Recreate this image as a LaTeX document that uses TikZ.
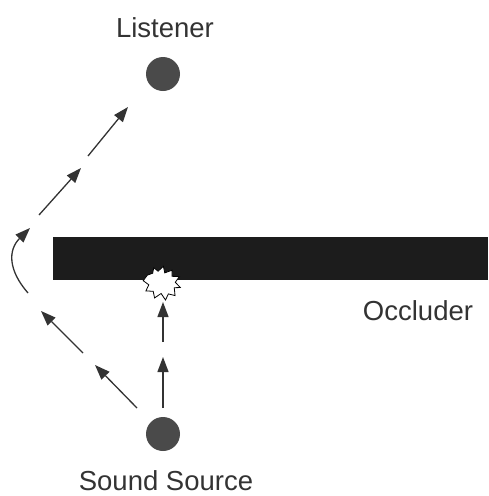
\documentclass[tikz,border=0pt]{standalone}
\usepackage{fontspec}
\setmainfont{Liberation Sans}
\usetikzlibrary{arrows.meta}
\definecolor{inkgray}{HTML}{333333}
\definecolor{dotgray}{HTML}{4A4A4A}
\definecolor{barblack}{HTML}{1C1C1C}
\begin{document}
\begin{tikzpicture}[x=1pt,y=-1pt,
  label/.style={font=\fontsize{27.5}{30}\selectfont, text=inkgray, inner sep=0pt, anchor=base},
  dot/.style={circle, fill=dotgray, minimum size=34pt, inner sep=0pt},
  ray/.style={draw=inkgray, line width=1.3pt,
    -{Triangle[length=15pt,width=11pt]}}]
  \useasboundingbox (0,0) rectangle (488,496);

  % occluding wall
  \fill[barblack] (53,237) rectangle (488,280);

  % listener and source
  \node[dot] (listener) at (163,74) {};
  \node[dot] (source) at (163,434) {};
  \node[label] (ltext) at (165,37) {Listener};
  \node[label] (stext) at (166,490) {Sound Source};
  \node[label] (otext) at (418,320) {Occluder};

  % blocked impact point under the wall
  \coordinate (hit) at (162,282);
  \begin{scope}[shift={(hit)}, rotate=-25, scale=1.35]
    \draw[fill=white, draw=black, line width=0.8pt]
      plot[sharp cycle] coordinates {
        (-12,0) (-9,-3) (-10,-7) (-6,-6) (-4,-11) (-1,-7) (3,-11)
        (5,-7) (10,-9) (9,-4) (14,-2) (10,0) (13,5) (8,6)
        (8,11) (3,8) (0,13) (-3,9) (-8,11) (-8,6) (-13,5)};
  \end{scope}

  % direct path, stopped by the wall
  \coordinate (d1a) at (163,408); \coordinate (d1b) at (163,357);
  \coordinate (d2a) at (163,342); \coordinate (d2b) at (163,302);
  \draw[ray] (d1a) -- (d1b);
  \draw[ray] (d2a) -- (d2b);

  % diffracted path around the wall end
  \coordinate (a1a) at (137,408); \coordinate (a1b) at (95,365);
  \coordinate (a2a) at (83,353);  \coordinate (a2b) at (41,311);
  \coordinate (c1a) at (28,293);  \coordinate (c1b) at (30,228);
  \coordinate (b1a) at (39,215);  \coordinate (b1b) at (81,168);
  \coordinate (b2a) at (88,156);  \coordinate (b2b) at (128,107);
  \draw[ray] (a1a) -- (a1b);
  \draw[ray] (a2a) -- (a2b);
  \draw[ray] (c1a) .. controls (8,270) and (8,250) .. (c1b);
  \draw[ray] (b1a) -- (b1b);
  \draw[ray] (b2a) -- (b2b);
\end{tikzpicture}
\end{document}
